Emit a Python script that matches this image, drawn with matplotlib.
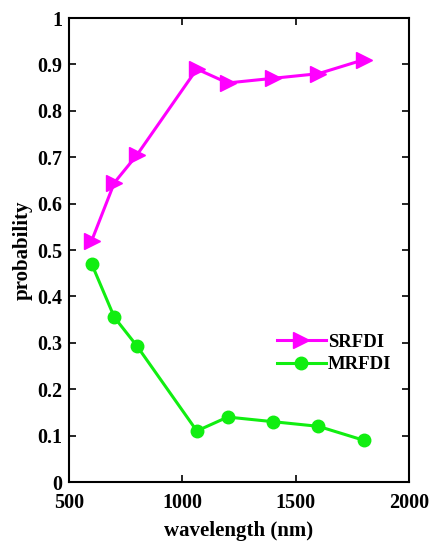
import matplotlib.pyplot as plt

wavelength = [600, 700, 800, 1064, 1200, 1400, 1600, 1800]
srfdi = [0.52, 0.645, 0.705, 0.89, 0.86, 0.87, 0.88, 0.91]
mrfdi = [0.47, 0.355, 0.293, 0.11, 0.14, 0.13, 0.12, 0.09]

plt.rcParams['font.family'] = ['Liberation Serif', 'DejaVu Serif']
plt.rcParams['font.weight'] = 'bold'

fig = plt.figure(figsize=(4.31, 5.42), dpi=100)
ax = fig.add_axes([69 / 431, 60 / 542, 340 / 431, 464 / 542])

ax.plot(wavelength, srfdi, color='#ff00ff', marker='>', markersize=11, linewidth=2.2, label='SRFDI')
ax.plot(wavelength, mrfdi, color='#11ee11', marker='o', markersize=9, linewidth=2.2, label='MRFDI')

ax.set_xlim(500, 2000)
ax.set_ylim(0, 1)
ax.set_xticks([500, 1000, 1500, 2000])
ax.set_yticks([0, 0.1, 0.2, 0.3, 0.4, 0.5, 0.6, 0.7, 0.8, 0.9, 1])
ax.set_yticklabels(['0', '0.1', '0.2', '0.3', '0.4', '0.5', '0.6', '0.7', '0.8', '0.9', '1'])
ax.tick_params(direction='in', top=True, right=True, labelsize=14.5, width=1.2, length=5)
ax.tick_params(axis='x', pad=8)
ax.tick_params(axis='y', pad=5)
for s in ax.spines.values():
    s.set_linewidth(1.5)

ax.set_xlabel('wavelength (nm)', fontsize=15, fontweight='bold', labelpad=6)
ax.set_ylabel('probability', fontsize=15, fontweight='bold', labelpad=3)

ax.legend(loc='upper left', bbox_to_anchor=(0.59, 0.336), frameon=False, fontsize=13.5,
          handlelength=2.6, handletextpad=0.1, borderaxespad=0, labelspacing=0.3)

fig.savefig('out.png', dpi=100)
